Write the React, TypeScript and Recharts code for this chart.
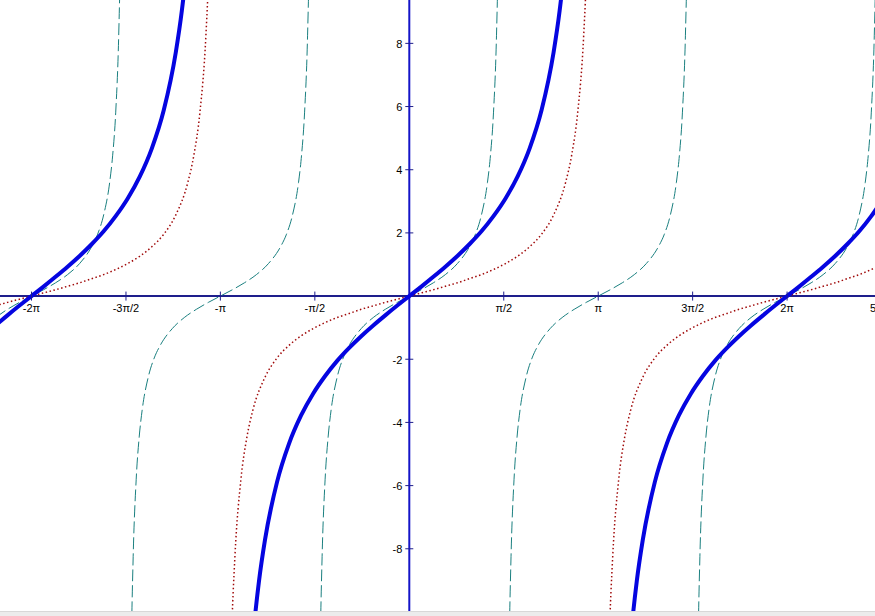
import React from "react";
import { LineChart, Line, XAxis, YAxis, ReferenceLine, ReferenceDot } from "recharts";

// axis ticks
const xTickValues = [-6.283, -4.712, -3.142, -1.571, 1.571, 3.142, 4.712, 6.283, 7.854];
const xTickLabels = ["-2π", "-3π/2", "-π", "-π/2", "π/2", "π", "3π/2", "2π", "5π/2"];
const yTickValues = [8, 6, 4, 2, -2, -4, -6, -8];

// teal dashed curve, read per branch as [x, y]
const tealBranch1 = [
  [-6.883, -0.68], [-6.683, -0.42], [-6.483, -0.2], [-6.283, 0], [-6.083, 0.2], [-5.883, 0.42],
  [-5.683, 0.68], [-5.483, 1.03], [-5.283, 1.56], [-5.183, 1.96], [-5.083, 2.57], [-4.983, 3.6],
  [-4.933, 4.46], [-4.883, 5.8], [-4.833, 8.24], [-4.803, 10.98], [-4.783, 14.1],
];
const tealBranch2 = [
  [-4.642, -14.1], [-4.622, -10.98], [-4.592, -8.24], [-4.542, -5.8], [-4.492, -4.46], [-4.442, -3.6],
  [-4.342, -2.57], [-4.242, -1.96], [-4.142, -1.56], [-3.942, -1.03], [-3.742, -0.68], [-3.542, -0.42],
  [-3.342, -0.2], [-3.142, 0], [-2.942, 0.2], [-2.742, 0.42], [-2.542, 0.68], [-2.342, 1.03],
  [-2.142, 1.56], [-2.042, 1.96], [-1.942, 2.57], [-1.842, 3.6], [-1.792, 4.46], [-1.742, 5.8],
  [-1.692, 8.24], [-1.662, 10.98], [-1.642, 14.1],
];
const tealBranch3 = [
  [-1.5, -14.1], [-1.48, -10.98], [-1.45, -8.24], [-1.4, -5.8], [-1.35, -4.46], [-1.3, -3.6],
  [-1.2, -2.57], [-1.1, -1.96], [-1.0, -1.56], [-0.8, -1.03], [-0.6, -0.68], [-0.4, -0.42],
  [-0.2, -0.2], [0, 0], [0.2, 0.2], [0.4, 0.42], [0.6, 0.68], [0.8, 1.03],
  [1.0, 1.56], [1.1, 1.96], [1.2, 2.57], [1.3, 3.6], [1.35, 4.46], [1.4, 5.8],
  [1.45, 8.24], [1.48, 10.98], [1.5, 14.1],
];
const tealBranch4 = [
  [1.642, -14.1], [1.662, -10.98], [1.692, -8.24], [1.742, -5.8], [1.792, -4.46], [1.842, -3.6],
  [1.942, -2.57], [2.042, -1.96], [2.142, -1.56], [2.342, -1.03], [2.542, -0.68], [2.742, -0.42],
  [2.942, -0.2], [3.142, 0], [3.342, 0.2], [3.542, 0.42], [3.742, 0.68], [3.942, 1.03],
  [4.142, 1.56], [4.242, 1.96], [4.342, 2.57], [4.442, 3.6], [4.492, 4.46], [4.542, 5.8],
  [4.592, 8.24], [4.622, 10.98], [4.642, 14.1],
];
const tealBranch5 = [
  [4.783, -14.1], [4.803, -10.98], [4.833, -8.24], [4.883, -5.8], [4.933, -4.46], [4.983, -3.6],
  [5.083, -2.57], [5.183, -1.96], [5.283, -1.56], [5.483, -1.03], [5.683, -0.68], [5.883, -0.42],
  [6.083, -0.2], [6.283, 0], [6.483, 0.2], [6.683, 0.42], [6.883, 0.68], [7.083, 1.03],
  [7.283, 1.56], [7.383, 1.96], [7.483, 2.57], [7.583, 3.6], [7.633, 4.46], [7.683, 5.8],
  [7.733, 8.24], [7.763, 10.98], [7.783, 14.1],
];

// red dotted curve
const redBranch1 = [
  [-6.883, -0.31], [-6.683, -0.2], [-6.483, -0.1], [-6.283, 0], [-6.083, 0.1], [-5.883, 0.2],
  [-5.683, 0.31], [-5.483, 0.42], [-5.283, 0.55], [-5.083, 0.68], [-4.883, 0.84], [-4.683, 1.03],
  [-4.483, 1.26], [-4.283, 1.56], [-4.083, 1.96], [-3.883, 2.57], [-3.683, 3.6], [-3.583, 4.46],
  [-3.483, 5.8], [-3.383, 8.24], [-3.323, 10.98], [-3.283, 14.1],
];
const redBranch2 = [
  [-3.0, -14.1], [-2.96, -10.98], [-2.9, -8.24], [-2.8, -5.8], [-2.7, -4.46], [-2.6, -3.6],
  [-2.4, -2.57], [-2.2, -1.96], [-2.0, -1.56], [-1.8, -1.26], [-1.6, -1.03], [-1.4, -0.84],
  [-1.2, -0.68], [-1.0, -0.55], [-0.8, -0.42], [-0.6, -0.31], [-0.4, -0.2], [-0.2, -0.1],
  [0, 0], [0.2, 0.1], [0.4, 0.2], [0.6, 0.31], [0.8, 0.42], [1.0, 0.55],
  [1.2, 0.68], [1.4, 0.84], [1.6, 1.03], [1.8, 1.26], [2.0, 1.56], [2.2, 1.96],
  [2.4, 2.57], [2.6, 3.6], [2.7, 4.46], [2.8, 5.8], [2.9, 8.24], [2.96, 10.98], [3.0, 14.1],
];
const redBranch3 = [
  [3.283, -14.1], [3.323, -10.98], [3.383, -8.24], [3.483, -5.8], [3.583, -4.46], [3.683, -3.6],
  [3.883, -2.57], [4.083, -1.96], [4.283, -1.56], [4.483, -1.26], [4.683, -1.03], [4.883, -0.84],
  [5.083, -0.68], [5.283, -0.55], [5.483, -0.42], [5.683, -0.31], [5.883, -0.2], [6.083, -0.1],
  [6.283, 0], [6.483, 0.1], [6.683, 0.2], [6.883, 0.31], [7.083, 0.42], [7.283, 0.55],
  [7.483, 0.68], [7.683, 0.84], [7.883, 1.03],
];

// thick blue curve
const blueBranch1 = [
  [-6.883, -0.93], [-6.683, -0.61], [-6.483, -0.3], [-6.283, 0], [-6.083, 0.3], [-5.883, 0.61],
  [-5.683, 0.93], [-5.483, 1.27], [-5.283, 1.64], [-5.083, 2.05], [-4.883, 2.53], [-4.683, 3.09],
  [-4.483, 3.78], [-4.283, 4.67], [-4.083, 5.89], [-3.883, 7.72], [-3.783, 9.03], [-3.683, 10.81],
  [-3.583, 13.37],
];
const blueBranch2 = [
  [-2.7, -13.37], [-2.6, -10.81], [-2.5, -9.03], [-2.4, -7.72], [-2.2, -5.89], [-2.0, -4.67],
  [-1.8, -3.78], [-1.6, -3.09], [-1.4, -2.53], [-1.2, -2.05], [-1.0, -1.64], [-0.8, -1.27],
  [-0.6, -0.93], [-0.4, -0.61], [-0.2, -0.3], [0, 0], [0.2, 0.3], [0.4, 0.61],
  [0.6, 0.93], [0.8, 1.27], [1.0, 1.64], [1.2, 2.05], [1.4, 2.53], [1.6, 3.09],
  [1.8, 3.78], [2.0, 4.67], [2.2, 5.89], [2.4, 7.72], [2.5, 9.03], [2.6, 10.81], [2.7, 13.37],
];
const blueBranch3 = [
  [3.583, -13.37], [3.683, -10.81], [3.783, -9.03], [3.883, -7.72], [4.083, -5.89], [4.283, -4.67],
  [4.483, -3.78], [4.683, -3.09], [4.883, -2.53], [5.083, -2.05], [5.283, -1.64], [5.483, -1.27],
  [5.683, -0.93], [5.883, -0.61], [6.083, -0.3], [6.283, 0], [6.483, 0.3], [6.683, 0.61],
  [6.883, 0.93], [7.083, 1.27], [7.283, 1.64], [7.483, 2.05], [7.683, 2.53], [7.883, 3.09],
];

const toPoints = (pairs: number[][]) => pairs.map(([x, y]) => ({ x, y }));

const TEAL = "#1a7f7f";
const RED = "#a00a0a";
const BLUE = "#0505e0";
const AXIS_X = "#1e1e8c";
const AXIS_Y = "#1414c8";
const FONT = "'Liberation Sans', Arial, sans-serif";

const XTick = (label: string) => (props: any) => {
  const { cx, cy } = props;
  return (
    <g>
      <line x1={cx} x2={cx} y1={cy - 4.5} y2={cy + 4.5} stroke={AXIS_X} strokeWidth={1} />
      <text x={cx} y={cy + 16} textAnchor="middle" fontSize={11} fontFamily={FONT} fill="#000">
        {label}
      </text>
    </g>
  );
};

const YTick = (label: string) => (props: any) => {
  const { cx, cy } = props;
  return (
    <g>
      <line x1={cx - 4} x2={cx + 4} y1={cy} y2={cy} stroke={AXIS_X} strokeWidth={1} />
      <text x={cx - 7} y={cy + 4.5} textAnchor="end" fontSize={11} fontFamily={FONT} fill="#000">
        {label}
      </text>
    </g>
  );
};

export default function App() {
  const teal = [tealBranch1, tealBranch2, tealBranch3, tealBranch4, tealBranch5];
  const red = [redBranch1, redBranch2, redBranch3];
  const blue = [blueBranch1, blueBranch2, blueBranch3];

  return (
    <div style={{ position: "fixed", left: 0, top: 0, width: 875, height: 616, overflow: "hidden", background: "#fff" }}>
      <LineChart width={875} height={611} margin={{ top: 0, right: 0, bottom: 0, left: 0 }}>
        <XAxis type="number" dataKey="x" domain={[-6.807, 7.745]} allowDataOverflow hide />
        <YAxis type="number" dataKey="y" domain={[-9.97, 9.373]} allowDataOverflow hide />
        <ReferenceLine y={0} stroke={AXIS_X} strokeWidth={2} />
        <ReferenceLine x={0} stroke={AXIS_Y} strokeWidth={2} />
        {xTickValues.map((v, i) => (
          <ReferenceDot key={"xt" + i} x={v} y={0} ifOverflow="visible" shape={XTick(xTickLabels[i])} />
        ))}
        {yTickValues.map((v) => (
          <ReferenceDot key={"yt" + v} x={0} y={v} shape={YTick(String(v))} />
        ))}
        {teal.map((b, i) => (
          <Line
            key={"teal" + i}
            data={toPoints(b)}
            dataKey="y"
            type="monotone"
            stroke={TEAL}
            strokeWidth={1}
            strokeDasharray="12 4"
            dot={false}
            activeDot={false}
            isAnimationActive={false}
          />
        ))}
        {red.map((b, i) => (
          <Line
            key={"red" + i}
            data={toPoints(b)}
            dataKey="y"
            type="monotone"
            stroke={RED}
            strokeWidth={1.5}
            strokeDasharray="1.5 2.5"
            dot={false}
            activeDot={false}
            isAnimationActive={false}
          />
        ))}
        {blue.map((b, i) => (
          <Line
            key={"blue" + i}
            data={toPoints(b)}
            dataKey="y"
            type="monotone"
            stroke={BLUE}
            strokeWidth={4}
            dot={false}
            activeDot={false}
            isAnimationActive={false}
          />
        ))}
      </LineChart>
      <div style={{ height: 5, background: "#ececec", borderTop: "1px solid #d8d8d8" }} />
    </div>
  );
}
